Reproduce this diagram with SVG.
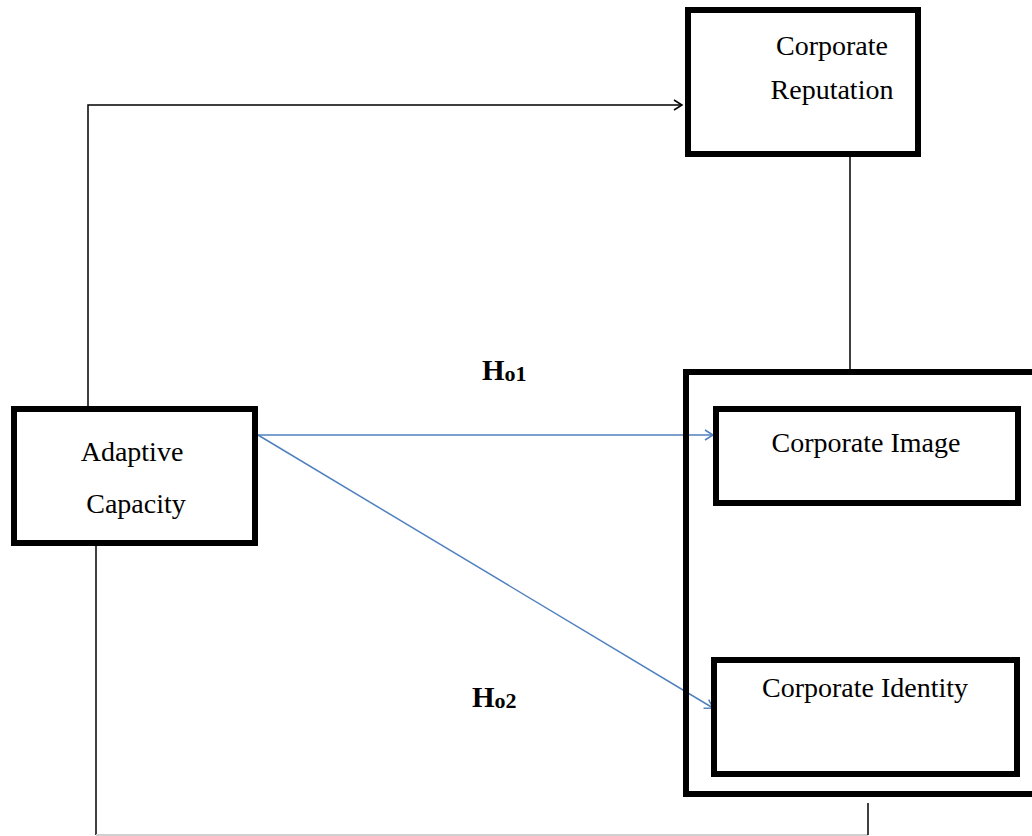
<svg xmlns="http://www.w3.org/2000/svg" width="1032" height="836" viewBox="0 0 1032 836">
<defs>
<style>
.box{fill:#fff;stroke:#000;stroke-width:6}
.frame{fill:none;stroke:#000;stroke-width:6}
.lbl{font-family:"Liberation Serif","Times New Roman",serif;font-size:28px;fill:#000;text-anchor:middle}
.hyp{font-family:"Liberation Serif","Times New Roman",serif;font-weight:bold;fill:#000}
.ln{fill:none;stroke:#000;stroke-width:1.5}
.blue{fill:none;stroke:#4f81bd;stroke-width:1.5}
</style>
<marker id="arrB" markerWidth="12" markerHeight="12" refX="10" refY="6" orient="auto" markerUnits="userSpaceOnUse">
<path d="M2,1 L10,6 L2,11" fill="none" stroke="#000" stroke-width="1.5"/>
</marker>
<marker id="arrBl" markerWidth="12" markerHeight="12" refX="10" refY="6" orient="auto" markerUnits="userSpaceOnUse">
<path d="M2,1 L10,6 L2,11" fill="none" stroke="#4f81bd" stroke-width="1.5"/>
</marker>
</defs>
<rect width="1032" height="836" fill="#fff"/>
<g id="connectors">
<polyline class="ln" points="88,406 88,105 682,105" marker-end="url(#arrB)"/>
<line class="ln" x1="850" y1="157" x2="850" y2="369"/>
<polyline class="ln" points="96,546 96,835"/>
<line x1="96" y1="835" x2="868" y2="835" stroke="#cfcfcf" stroke-width="2"/>
<line class="ln" x1="868" y1="835" x2="868" y2="803"/>
<line class="blue" x1="258" y1="435" x2="713" y2="435" marker-end="url(#arrBl)"/>
<line class="blue" x1="258" y1="435" x2="713" y2="708" marker-end="url(#arrBl)"/>
</g>
<g id="corporate-reputation">
<rect class="box" x="688" y="10" width="230" height="144"/>
<text class="lbl" x="832" y="55">Corporate</text>
<text class="lbl" x="832" y="99">Reputation</text>
</g>
<g id="adaptive-capacity">
<rect class="box" x="14" y="409" width="241" height="134"/>
<text class="lbl" x="132" y="461">Adaptive</text>
<text class="lbl" x="136" y="513">Capacity</text>
</g>
<g id="container">
<rect class="frame" x="686" y="372" width="360" height="422"/>
</g>
<g id="corporate-image">
<rect class="box" x="716" y="409" width="302" height="94"/>
<text class="lbl" x="866" y="452">Corporate Image</text>
</g>
<g id="corporate-identity">
<rect class="box" x="714" y="660" width="303" height="114"/>
<text class="lbl" x="865" y="697">Corporate Identity</text>
</g>
<g id="h01">
<text class="hyp" x="482" y="380" font-size="29">H<tspan font-size="22" dy="1">o1</tspan></text>
</g>
<g id="h02">
<text class="hyp" x="472" y="707" font-size="29">H<tspan font-size="22" dy="1">o2</tspan></text>
</g>
</svg>
